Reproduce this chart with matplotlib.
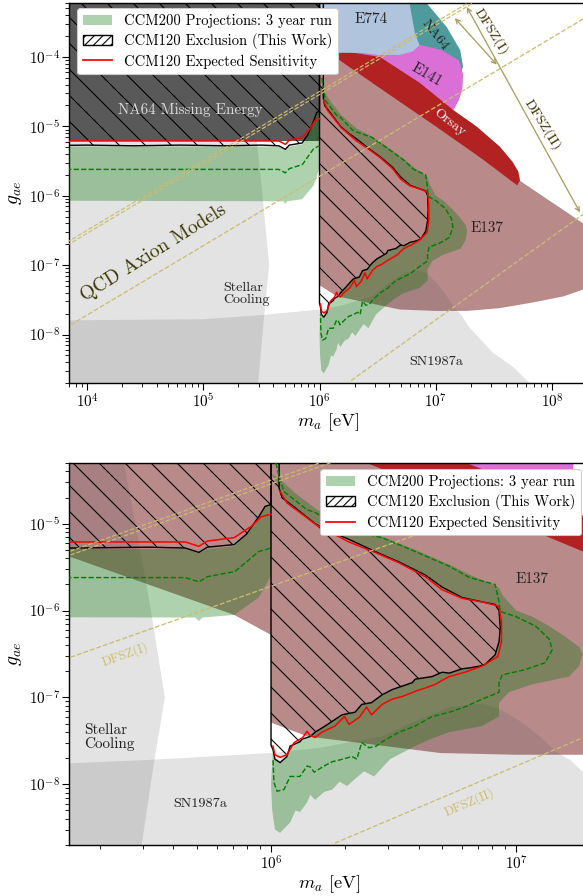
import numpy as np
import matplotlib.pyplot as plt
from matplotlib.patches import Patch
from matplotlib.lines import Line2D
from matplotlib.ticker import LogLocator, NullFormatter

plt.rcParams['font.family'] = 'serif'
plt.rcParams['font.serif'] = ['cmr10']
plt.rcParams['mathtext.fontset'] = 'cm'
plt.rcParams['axes.formatter.use_mathtext'] = True
plt.rcParams['axes.unicode_minus'] = False
plt.rcParams['hatch.linewidth'] = 1.0

# all boundaries are (log10 m_a/eV, log10 g_ae)
STELLAR = [(3.5, -3.0), (5.32, -3.0), (5.40, -4.3), (5.46, -5.2), (5.51, -6.0),
           (5.567, -7.0), (5.52, -7.8), (5.43, -9.5), (3.5, -9.5)]
SN1987A = [(3.5, -7.80), (5.0, -7.78), (5.5, -7.72), (6.0, -7.64), (6.2, -7.58),
           (6.35, -7.50), (6.45, -7.45), (6.59, -7.27), (6.73, -7.11), (6.86, -7.07),
           (6.93, -7.13), (7.02, -7.28), (7.10, -7.46), (7.16, -7.62), (7.22, -7.72),
           (7.28, -7.88), (7.49, -8.26), (7.66, -8.46), (7.9, -8.85), (7.9, -9.5), (3.5, -9.5)]
NA64_ME = [(3.5, -5.21), (6.0, -5.21), (6.0, -3.0), (3.5, -3.0)]
E137 = [(6.0, -3.0), (6.0, -7.29), (6.15, -7.45), (6.41, -7.54), (6.69, -7.64), (7.0, -7.66),
        (7.27, -7.66), (7.55, -7.62), (7.83, -7.54), (8.1, -7.45), (8.27, -7.35), (8.5, -7.2),
        (8.5, -6.6), (8.27, -6.4), (7.72, -5.78), (7.4, -5.3), (7.0, -4.7), (6.5, -4.0), (6.2, -3.0)]
E137_LOWMASS = [(4.0, -3.0), (4.0, -4.2), (5.18, -5.38), (5.85, -6.05), (6.0, -6.28), (6.0, -3.0)]
NA64 = [(6.2, -3.0), (6.90, -3.0), (6.92, -3.22), (7.095, -3.57), (7.21, -3.90),
        (7.235, -4.14), (7.2, -4.3), (6.9, -4.2), (6.2, -3.9)]
E141 = [(6.2, -3.8), (6.8, -3.8), (7.05, -3.9), (7.20, -4.05), (7.235, -4.25), (7.23, -4.45),
        (7.2, -4.62), (7.147, -4.78), (7.0, -4.7), (6.6, -4.25), (6.2, -3.95)]
ORSAY = [(6.15, -3.9), (6.52, -4.0), (6.86, -4.37), (7.147, -4.76), (7.35, -5.0), (7.55, -5.29),
         (7.66, -5.51), (7.71, -5.65), (7.725, -5.78), (7.70, -5.85), (7.4, -5.47), (7.0, -5.0),
         (6.52, -4.45), (6.15, -4.02)]
E774 = [(6.0, -3.0), (6.75, -3.0), (6.82, -3.65), (6.86, -3.83), (6.80, -3.92), (6.69, -3.97),
        (6.5, -3.97), (6.37, -3.94), (6.175, -3.94), (6.0, -3.94)]

CCM200_LOW = [(3.5, -5.29), (5.65, -5.29), (5.706, -5.34), (5.74, -5.29), (5.85, -5.26),
              (5.9, -5.13), (5.95, -4.93), (5.976, -4.81), (6.0, -4.77), (6.0, -5.6),
              (5.95, -5.85), (5.85, -6.05), (5.72, -6.08), (5.706, -6.12), (5.69, -6.08), (3.5, -6.07)]
CCM200_HIGH = [(6.0, -4.42), (6.037, -4.49), (6.1, -4.65), (6.188, -4.84), (6.318, -5.03),
               (6.453, -5.15), (6.588, -5.30), (6.727, -5.47), (6.82, -5.60), (6.89, -5.68),
               (6.93, -5.74), (6.943, -5.82), (7.0, -6.0), (7.065, -6.07), (7.135, -6.18),
               (7.20, -6.30), (7.257, -6.42), (7.27, -6.5), (7.257, -6.64), (7.216, -6.76),
               (7.065, -6.85), (6.97, -6.94), (6.93, -7.06), (6.93, -7.22), (6.86, -7.33),
               (6.727, -7.40), (6.65, -7.48), (6.588, -7.56), (6.486, -7.71), (6.42, -7.91),
               (6.38, -7.85), (6.35, -7.92), (6.31, -8.02), (6.28, -7.97), (6.25, -8.06),
               (6.216, -8.09), (6.18, -8.18), (6.16, -8.12), (6.147, -8.21), (6.118, -8.32),
               (6.10, -8.30), (6.078, -8.44), (6.05, -8.52), (6.037, -8.56), (6.016, -8.52),
               (6.005, -8.3), (6.0, -8.0)]
CCM200_MED_LOW = [(3.5, -5.62), (5.65, -5.62), (5.706, -5.67), (5.74, -5.61), (5.853, -5.55),
                  (5.95, -5.32), (6.0, -5.28)]
CCM200_MED_HIGH = [(6.02, -4.3), (6.037, -4.5), (6.053, -4.63), (6.147, -4.84), (6.18, -4.87),
                   (6.282, -5.05), (6.318, -5.08), (6.453, -5.16), (6.588, -5.32), (6.727, -5.49),
                   (6.81, -5.62), (6.914, -5.70), (6.93, -5.90), (6.935, -6.01), (7.0, -6.07),
                   (7.08, -6.18), (7.135, -6.33), (7.147, -6.45), (7.118, -6.60), (7.037, -6.68),
                   (6.943, -6.74), (6.93, -6.83), (6.93, -6.94), (6.861, -7.02), (6.79, -7.11),
                   (6.727, -7.17), (6.657, -7.22), (6.588, -7.33), (6.522, -7.40), (6.453, -7.51),
                   (6.43, -7.56), (6.40, -7.58), (6.37, -7.52), (6.35, -7.71), (6.33, -7.68),
                   (6.28, -7.72), (6.25, -7.74), (6.216, -7.79), (6.176, -7.86), (6.16, -7.80),
                   (6.147, -7.79), (6.118, -7.91), (6.078, -7.91), (6.053, -8.06), (6.025, -8.08),
                   (6.012, -7.98), (6.008, -7.71)]

CCM120_EXCL_LOW = [(3.5, -5.28), (4.0, -5.27), (4.4, -5.28), (4.8, -5.27), (5.2, -5.28),
                   (5.5, -5.27), (5.65, -5.28), (5.706, -5.33), (5.74, -5.27), (5.85, -5.24),
                   (5.9, -5.12), (5.95, -4.92), (5.976, -4.80), (6.0, -4.78), (6.0, -3.0), (3.5, -3.0)]
CCM120_EXCL_HIGH = [(6.0, -7.55), (6.0, -3.0), (6.033, -3.0), (6.033, -4.59), (6.045, -4.70),
                    (6.1, -4.82), (6.18, -5.0), (6.25, -5.1), (6.318, -5.18), (6.424, -5.32),
                    (6.522, -5.44), (6.629, -5.59), (6.698, -5.73), (6.78, -5.85), (6.861, -5.90),
                    (6.914, -5.93), (6.93, -6.0), (6.935, -6.2), (6.93, -6.36), (6.914, -6.51),
                    (6.873, -6.62), (6.85, -6.64), (6.81, -6.66), (6.78, -6.67), (6.727, -6.72),
                    (6.698, -6.71), (6.657, -6.76), (6.588, -6.79), (6.576, -6.83), (6.494, -6.91),
                    (6.453, -6.97), (6.41, -7.06), (6.37, -7.08), (6.343, -7.17), (6.29, -7.20),
                    (6.22, -7.33), (6.18, -7.40), (6.16, -7.45), (6.127, -7.48), (6.118, -7.51),
                    (6.078, -7.56), (6.065, -7.68), (6.037, -7.75), (6.016, -7.71), (6.008, -7.60)]
CCM120_EXP_LOW = [(3.5, -5.21), (5.65, -5.21), (5.706, -5.26), (5.74, -5.20), (5.85, -5.16),
                  (5.92, -5.03), (5.96, -4.92), (6.0, -4.89)]
CCM120_EXP_HIGH = [(6.035, -4.62), (6.065, -4.76), (6.188, -5.02), (6.318, -5.21), (6.424, -5.33),
                   (6.522, -5.45), (6.629, -5.61), (6.698, -5.76), (6.78, -5.86), (6.861, -5.90),
                   (6.93, -5.95), (6.94, -6.13), (6.94, -6.36), (6.925, -6.53), (6.86, -6.64),
                   (6.79, -6.71), (6.727, -6.76), (6.70, -6.80), (6.67, -6.85), (6.63, -6.89),
                   (6.588, -6.93), (6.535, -6.99), (6.494, -7.02), (6.453, -7.08), (6.41, -7.20),
                   (6.39, -7.11), (6.36, -7.23), (6.318, -7.31), (6.30, -7.22), (6.26, -7.33),
                   (6.208, -7.40), (6.18, -7.46), (6.16, -7.44), (6.147, -7.39), (6.13, -7.46),
                   (6.094, -7.52), (6.065, -7.66), (6.037, -7.69), (6.016, -7.66), (6.008, -7.56)]

DFSZ_A = [(3.5, -7.02), (8.5, -2.02)]
DFSZ_B = [(3.5, -8.22), (8.5, -3.22)]
DFSZ_C = [(5.5, -9.59), (8.5, -5.99)]

LEGEND_LABELS = ['CCM200 Projections: 3 year run', 'CCM120 Exclusion (This Work)',
                 'CCM120 Expected Sensitivity']

GREEN = '#007300'
KHAKI = '#cbbd6e'
OLIVE_TXT = '#3d3600'


def poly(ax, pts, **kw):
    m, g = np.array(pts).T
    ax.fill(10**m, 10**g, **kw)


def curve(ax, pts, dg=0.0, **kw):
    m, g = np.array(pts).T
    ax.plot(10**m, 10**(g + dg), **kw)


def txt(ax, lm, lg, s, **kw):
    ax.text(10**lm, 10**lg, s, ha='center', va='center', zorder=9, **kw)


# projection band above 1 MeV: outer contour with the excluded island cut out
CCM200_BAND = CCM200_HIGH + CCM120_EXCL_HIGH[3:][::-1]


def draw(ax, top):
    if top:
        poly(ax, NA64_ME, color='#5a5a5a', lw=0, zorder=1)
    poly(ax, E137, color='#b88a8a', lw=0, zorder=1)
    if not top:
        poly(ax, E137_LOWMASS, color='#b88a8a', lw=0, zorder=1)
    poly(ax, NA64, color='#4f9a9a', lw=0, zorder=1.1)
    poly(ax, E141, color='#da70d6', lw=0, zorder=1.2)
    poly(ax, ORSAY, color='#b22222', lw=0, zorder=1.3)
    poly(ax, E774, color='#b0c4de', lw=0, zorder=1.4)
    poly(ax, STELLAR, color='#555555', alpha=0.165, lw=0, zorder=2)
    poly(ax, SN1987A, color='#555555', alpha=0.165, lw=0, zorder=2)
    poly(ax, CCM200_LOW, color=GREEN, alpha=0.32, lw=0, zorder=3)
    poly(ax, CCM200_BAND, color=GREEN, alpha=0.32, lw=0, zorder=3)
    for p in (CCM120_EXCL_LOW, CCM120_EXCL_HIGH):
        poly(ax, p, facecolor='none', edgecolor='black', hatch='\\', lw=1.3, zorder=4)
    curve(ax, CCM120_EXP_LOW, color='red', lw=1.4, zorder=5)
    curve(ax, CCM120_EXP_HIGH, color='red', lw=1.4, zorder=5)
    curve(ax, CCM200_MED_LOW, color='green', ls='--', lw=1.3, zorder=5)
    curve(ax, CCM200_MED_HIGH, color='green', ls='--', lw=1.3, zorder=5)
    for dg in (-0.022, 0.022):
        curve(ax, DFSZ_A, dg=dg, color=KHAKI, ls='--', lw=1.1, zorder=6)
    curve(ax, DFSZ_B, color=KHAKI, ls='--', lw=1.2, zorder=6)
    curve(ax, DFSZ_C, color=KHAKI, ls='--', lw=1.2, zorder=6)


def style(ax, xlim, ylim):
    ax.set_xscale('log')
    ax.set_yscale('log')
    ax.set_xlim(*xlim)
    ax.set_ylim(*ylim)
    for a in (ax.xaxis, ax.yaxis):
        a.set_major_locator(LogLocator(base=10, numticks=100))
        a.set_minor_locator(LogLocator(base=10, subs=np.arange(2, 10), numticks=100))
        a.set_minor_formatter(NullFormatter())
    ax.tick_params(which='major', length=6.5, width=1.0, labelsize=14, direction='out', pad=2)
    ax.tick_params(which='minor', length=3.5, width=0.8, direction='out')
    for s in ax.spines.values():
        s.set_linewidth(1.3)
    ax.set_ylabel(r'$g_{ae}$', fontsize=18)
    ax.set_xlabel(r'$m_a$ [eV]', fontsize=17, labelpad=1)


def handles():
    return [Patch(facecolor=GREEN, alpha=0.32, edgecolor='none'),
            Patch(facecolor='white', edgecolor='black', hatch='///', lw=1.3),
            Line2D([], [], color='red', lw=1.6)]


fig = plt.figure(figsize=(583 / 78, 896 / 78), dpi=78)
ax1 = fig.add_axes([69 / 583, 1 - 383 / 896, 518 / 583, 380 / 896])
ax2 = fig.add_axes([69 / 583, 1 - 845 / 896, 521 / 583, 382 / 896])

# ---- top panel ----
draw(ax1, True)
style(ax1, (7e3, 2e8), (2e-9, 6e-4))
txt(ax1, 4.886, -4.76, 'NA64 Missing Energy', color='#dadada', fontsize=14)
txt(ax1, 4.57, -6.82, 'QCD Axion Models', color=OLIVE_TXT, fontsize=18, rotation=32)
ax1.text(10**5.17, 10**-7.42, 'Stellar\nCooling', ha='left', va='center', fontsize=13,
         color='#222222', zorder=9, linespacing=1.0)
txt(ax1, 7.0, -8.39, 'SN1987a', fontsize=13, color='#222222')
txt(ax1, 7.44, -6.46, 'E137', fontsize=14, color='#222222')
txt(ax1, 6.44, -3.45, 'E774', fontsize=14, color='#222222')
txt(ax1, 6.99, -3.68, 'NA64', fontsize=13, rotation=-52, color='#222222')
txt(ax1, 6.92, -4.26, 'E141', fontsize=14, rotation=-30, color='#222222')
txt(ax1, 7.12, -4.95, 'Orsay', fontsize=13, rotation=-38, color='white')
txt(ax1, 7.48, -3.64, 'DFSZ(I)', fontsize=13, rotation=-58, color=OLIVE_TXT)
txt(ax1, 7.92, -4.98, 'DFSZ(II)', fontsize=13, rotation=-58, color=OLIVE_TXT)
arrow = dict(arrowstyle='<->', color='#a8a060', lw=1.2, shrinkA=0, shrinkB=0)
ax1.annotate('', xy=(10**7.525, 10**-4.11), xytext=(10**7.164, 10**-3.44),
             arrowprops=arrow, zorder=8)
ax1.annotate('', xy=(10**8.24, 10**-6.24), xytext=(10**7.267, 10**-3.28),
             arrowprops=arrow, zorder=8)
ax1.legend(handles(), LEGEND_LABELS, loc='upper left', fontsize=13.5, framealpha=1,
           bbox_to_anchor=(70 / 583, 1 - 1 / 896), bbox_transform=fig.transFigure,
           borderpad=0.4, labelspacing=0.35, handletextpad=0.8).set_zorder(20)

# ---- bottom panel ----
draw(ax2, False)
style(ax2, (1.5e5, 2e7), (2e-9, 5e-5))
txt(ax2, 7.065, -5.64, 'E137', fontsize=14, color='#222222')
ax2.text(10**5.237, 10**-7.46, 'Stellar\nCooling', ha='left', va='center', fontsize=14,
         color='#222222', zorder=9, linespacing=1.0)
txt(ax2, 5.71, -8.23, 'SN1987a', fontsize=13, color='#222222')
txt(ax2, 5.404, -6.51, 'DFSZ(I)', fontsize=12, rotation=19.5, color=KHAKI)
txt(ax2, 6.81, -8.21, 'DFSZ(II)', fontsize=12, rotation=23, color=KHAKI)
ax2.legend(handles(), LEGEND_LABELS, loc='upper right', fontsize=13.5, framealpha=1,
           bbox_to_anchor=(588 / 583, 1 - 462 / 896), bbox_transform=fig.transFigure,
           borderpad=0.4, labelspacing=0.35, handletextpad=0.8).set_zorder(20)

fig.savefig('out.png', dpi=78)
